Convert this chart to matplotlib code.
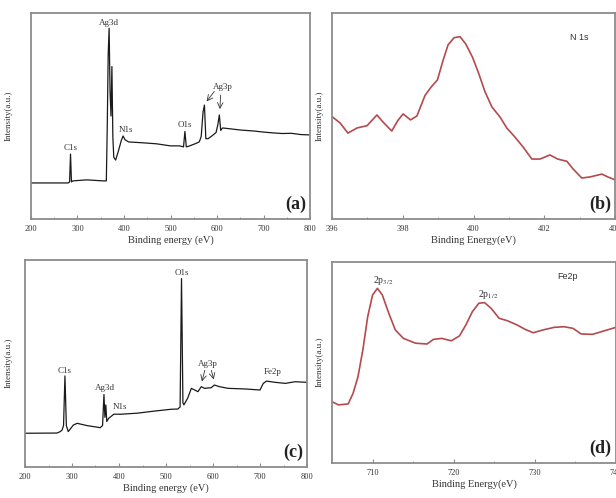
import matplotlib
matplotlib.use("Agg")
import matplotlib.pyplot as plt
from matplotlib.ticker import MultipleLocator

plt.rcParams['font.family'] = ['Liberation Serif', 'DejaVu Serif']
plt.rcParams['mathtext.fontset'] = 'stix'

# ---------------- data ----------------
# (a) survey spectrum
a_be = [200, 250, 280, 283, 285, 287, 290, 320, 355, 362, 364, 366, 368, 370, 372,
        374, 376, 378, 382, 388, 394, 398, 402, 410, 440, 470, 500, 520, 528, 531,
        534, 540, 555, 562, 566, 570, 573, 576, 581, 590, 598, 602, 605, 608, 612,
        620, 650, 680, 700, 720, 740, 760, 780, 800]
a_int = [17.5, 17.5, 17.5, 18.0, 31.5, 18.0, 18.5, 19.0, 18.5, 18.5, 45.0, 80.0, 92.6, 62.0, 50.0,
         74.0, 40.0, 30.0, 28.6, 33.0, 38.0, 40.3, 38.5, 37.4, 37.0, 36.5, 35.5, 35.5, 35.0, 42.5,
         35.0, 35.4, 36.7, 37.5, 40.0, 52.0, 55.3, 39.0, 39.0, 40.5, 42.0, 46.0, 50.5, 43.0, 44.2,
         44.0, 43.2, 42.7, 42.2, 41.8, 41.5, 41.6, 41.0, 40.8]

# (b) N 1s high-resolution
b_be = [396.0, 396.23, 396.45, 396.71, 396.99, 397.27, 397.44, 397.69, 397.86, 398.01,
        398.22, 398.40, 398.63, 398.80, 398.98, 399.14, 399.28, 399.45, 399.62, 399.78,
        399.97, 400.14, 400.32, 400.52, 400.75, 400.94, 401.17, 401.40, 401.65, 401.88,
        402.16, 402.38, 402.64, 402.81, 403.06, 403.29, 403.63, 403.80, 404.0]
b_int = [49.7, 46.6, 41.7, 44.2, 45.3, 50.5, 47.1, 42.7, 47.8, 51.0,
         48.1, 50.0, 60.0, 64.0, 67.5, 77.0, 84.5, 88.0, 88.5, 85.0,
         78.6, 71.0, 62.0, 54.4, 49.5, 44.2, 39.8, 35.0, 29.1, 29.1,
         31.1, 29.1, 28.0, 24.4, 19.9, 20.4, 21.8, 20.4, 19.0]

# (c) survey spectrum
c_be = [200, 268, 275, 279, 282, 285, 288, 292, 303, 311, 332, 360, 365, 368, 370,
        372, 374, 378, 389, 404, 439, 475, 511, 525, 530, 533, 536, 538, 546, 554,
        561, 568, 575, 582, 596, 603, 614, 632, 668, 700, 707, 714, 732, 754, 775, 800]
c_int = [16.3, 16.4, 17.1, 17.9, 20.0, 44.0, 20.0, 17.1, 20.3, 21.1, 20.0, 19.0, 20.0, 35.0, 24.0,
         30.0, 22.0, 23.5, 25.5, 25.5, 26.0, 27.0, 27.9, 28.0, 29.0, 91.0, 31.0, 30.0, 33.2, 38.0,
         37.2, 36.4, 38.8, 38.0, 38.3, 39.6, 38.8, 38.0, 37.7, 37.2, 40.4, 41.5, 40.9, 40.4, 41.2, 40.9]

# (d) Fe 2p high-resolution
d_be = [705.0, 705.8, 707.0, 707.6, 708.2, 708.8, 709.4, 710.0, 710.6, 711.2, 712.0, 712.8,
        713.8, 715.3, 716.7, 717.5, 718.5, 719.7, 720.7, 721.5, 722.3, 723.1, 723.8, 724.6,
        725.6, 726.6, 727.8, 728.8, 729.8, 731.0, 732.4, 733.6, 734.7, 735.7, 737.1, 738.5, 740.0]
d_int = [30.5, 28.9, 29.4, 34.7, 42.9, 56.2, 72.8, 83.6, 86.9, 83.6, 74.5, 66.2,
         62.0, 59.6, 59.2, 61.5, 62.0, 60.8, 63.2, 68.7, 75.3, 79.5, 79.8, 77.0,
         72.0, 70.8, 68.7, 66.5, 64.8, 66.2, 67.5, 67.8, 67.0, 64.2, 64.0, 65.7, 67.5]

survey_ticks = [200, 300, 400, 500, 600, 700, 800]
n1s_ticks = [396, 398, 400, 402, 404]
fe_ticks = [710, 720, 730, 740]

W, H = 616, 498
fig = plt.figure(figsize=(W / 100, H / 100), dpi=100)

def px_axes(l, t, r, b):
    return fig.add_axes([l / W, 1 - b / H, (r - l) / W, (b - t) / H])

spine_col = '#8c8c8c'
line_red = '#b34a4e'

def style(ax, xlim, ticks, minor, xlabel):
    ax.set_xlim(*xlim)
    ax.set_ylim(0, 100)
    ax.set_xticks(ticks)
    ax.xaxis.set_minor_locator(MultipleLocator(minor))
    ax.set_yticks([])
    for s in ax.spines.values():
        s.set_color(spine_col)
        s.set_linewidth(1.3)
    ax.tick_params(axis='x', which='major', direction='in', length=3, width=0.8,
                   color=spine_col, labelsize=6, pad=4.5, labelcolor='#333333')
    ax.tick_params(axis='x', which='minor', direction='in', length=1.8, width=0.6,
                   color=spine_col)
    ax.set_xlabel(xlabel, fontsize=7.5, labelpad=1.5, color='#333333')

# ---- (a) ----
ax = px_axes(31, 13, 310, 219)
ax.plot(a_be, a_int, color='#1a1a1a', lw=0.9)
style(ax, (200, 800), survey_ticks, 50, 'Binding energy (eV)')
tk = dict(fontsize=6.5, color='#333333', ha='center')
ax.text(368, 93.3, 'Ag3d', va='bottom', **tk)
ax.text(285, 32.5, 'C1s', va='bottom', **tk)
ax.text(404, 41.5, 'N1s', va='bottom', **tk)
ax.text(531, 43.5, 'O1s', va='bottom', **tk)
ax.text(612, 62, 'Ag3p', va='bottom', **tk)
ax.annotate('', xy=(574, 56), xytext=(598, 63),
            arrowprops=dict(arrowstyle='->', color='#333333', lw=0.6))
ax.annotate('', xy=(606, 52), xytext=(608, 61.5),
            arrowprops=dict(arrowstyle='->', color='#333333', lw=0.6))
ax.text(0.985, 0.03, '(a)', transform=ax.transAxes, ha='right', va='bottom',
        fontsize=13, fontweight='bold', color='#222222')

# ---- (b) ----
ax = px_axes(332, 13, 615, 219)
ax.plot(b_be, b_int, color=line_red, lw=1.2)
style(ax, (396, 404), n1s_ticks, 1, 'Binding Energy(eV)')
ax.text(403.0, 88, 'N 1s', fontsize=6.5, color='#333333', ha='center', va='center',
        family=['Liberation Sans', 'DejaVu Sans'])
ax.text(0.985, 0.03, '(b)', transform=ax.transAxes, ha='right', va='bottom',
        fontsize=13, fontweight='bold', color='#222222')

# ---- (c) ----
ax = px_axes(25, 260, 307, 467)
ax.plot(c_be, c_int, color='#1a1a1a', lw=0.9)
style(ax, (200, 800), survey_ticks, 50, 'Binding energy (eV)')
ax.text(533, 92, 'O1s', va='bottom', **tk)
ax.text(285, 44.5, 'C1s', va='bottom', **tk)
ax.text(370, 36, 'Ag3d', va='bottom', **tk)
ax.text(402, 29, 'N1s', va='center', **tk)
ax.text(589, 48, 'Ag3p', va='bottom', **tk)
ax.annotate('', xy=(575, 40), xytext=(584, 48),
            arrowprops=dict(arrowstyle='->', color='#333333', lw=0.6))
ax.annotate('', xy=(603, 41), xytext=(595, 48),
            arrowprops=dict(arrowstyle='->', color='#333333', lw=0.6))
ax.text(728, 44, 'Fe2p', va='bottom', **tk)
ax.text(0.985, 0.03, '(c)', transform=ax.transAxes, ha='right', va='bottom',
        fontsize=13, fontweight='bold', color='#222222')

# ---- (d) ----
ax = px_axes(332, 262, 616, 463)
ax.plot(d_be, d_int, color=line_red, lw=1.2)
style(ax, (705, 740), fe_ticks, 5, 'Binding Energy(eV)')
ax.text(711.3, 87.5, r'2p$_{3/2}$', fontsize=7, color='#333333', ha='center', va='bottom')
ax.text(724.2, 80.5, r'2p$_{1/2}$', fontsize=7, color='#333333', ha='center', va='bottom')
ax.text(734.0, 93, 'Fe2p', fontsize=6.5, color='#333333', ha='center', va='center',
        family=['Liberation Sans', 'DejaVu Sans'])
ax.text(0.985, 0.03, '(d)', transform=ax.transAxes, ha='right', va='bottom',
        fontsize=13, fontweight='bold', color='#222222')

# y labels
for xp, yp in [(9, 116), (320, 116), (9, 363), (320, 362)]:
    fig.text(xp / W, 1 - yp / H, 'Intensity(a.u.)', rotation=90, ha='center', va='center',
             fontsize=6.5, color='#333333')

fig.savefig('out.png', dpi=100)
